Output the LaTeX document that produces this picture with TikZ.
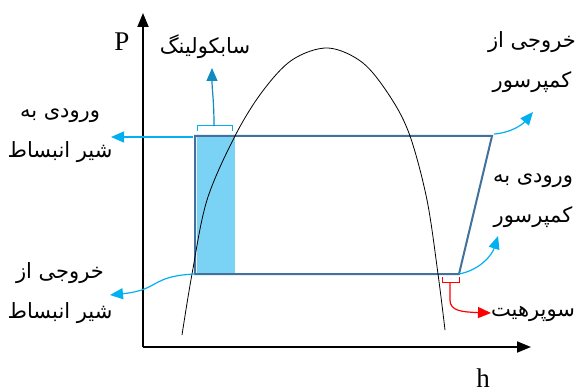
\documentclass[tikz,border=0pt]{standalone}
\usepackage{fontspec}
\setmainfont{Liberation Serif}
\newfontfamily\arabicfont[Script=Arabic]{DejaVu Sans}
\TeXXeTstate=1
\usetikzlibrary{arrows.meta}
\definecolor{cycleblue}{HTML}{41719C}
\definecolor{fillblue}{HTML}{7AD3F5}
\definecolor{cyanarrow}{HTML}{00B0F0}
\definecolor{tealarrow}{HTML}{0E8CC0}
\tikzset{
  axisline/.style={line width=1.8pt,-{Triangle[length=14pt,width=11pt]}},
  cycleline/.style={draw=cycleblue,line width=2pt,line join=miter},
  cyarrow/.style={draw=cyanarrow,line width=1.2pt,-{Triangle[length=13pt,width=11pt]}},
  tlabel/.style={font=\arabicfont\fontsize{21}{40}\selectfont,align=center,inner sep=0pt},
  latlabel/.style={font=\fontsize{27}{30}\selectfont,inner sep=0pt}
}
\begin{document}
\begin{tikzpicture}[x=1pt,y=-1pt]
\useasboundingbox (0,0) rectangle (577,390);
% axes
\coordinate (o) at (143,347);
\coordinate (ytop) at (143,13);
\coordinate (xend) at (531,347);
\draw[axisline] (o) -- (ytop);
\draw[axisline] (o) -- (xend);
\node[latlabel] (P) at (122,42) {P};
\node[latlabel,anchor=south] (h) at (483,388) {h};
% subcooling fill
\fill[fillblue] (197,136) rectangle (235,274);
% cycle
\coordinate (c1) at (195,136);
\coordinate (c2) at (492,136);
\coordinate (c3) at (459,274);
\coordinate (c4) at (195,274);
\draw[cycleline] (c1) -- (c2) -- (c3) -- (c4) -- cycle;
% dome
\draw[black,line width=0.8pt] plot[smooth,tension=0.55] coordinates {(182,335) (192,274) (207,200) (235,136) (262,92) (292,60) (328,48) (363,63) (391,98) (410,136) (427,200) (438,274) (445,330)};
% subcooling bracket
\draw[cyanarrow,line width=1pt] (197,131) -- (197,126) -- (232,126) -- (232,131);
\coordinate (sbstem) at (214,126);
\coordinate (sbtip) at (212,68);
\draw[draw=tealarrow,line width=1.2pt,-{Triangle[length=13pt,width=11pt]},tealarrow] (sbstem) .. controls (214,100) and (212,90) .. (sbtip);
\node[tlabel] (sub) at (205,47) {\beginR سابکولینگ\endR};
% superheat bracket
\draw[red,line width=1pt] (442,277) -- (442,282) -- (459,282) -- (459,277);
\coordinate (shstem) at (450,282);
\coordinate (shtip) at (491,313);
\draw[red,line width=1.2pt,-{Triangle[length=13pt,width=11pt]}] (shstem) -- (450,300) .. controls (450,311) and (462,312) .. (shtip);
\node[tlabel] (sup) at (533,314) {\beginR سوپرهیت\endR};
% arrows
\coordinate (t1) at (111,137);
\draw[cyarrow] (193,137) -- (t1);
\node[tlabel] (inexp) at (60,136) {\beginR ورودی به\endR\\\beginR شیر انبساط\endR};
\coordinate (t2) at (110,295);
\draw[cyarrow] (c4) .. controls (150,276) and (160,290) .. (t2);
\node[tlabel] (outexp) at (60,293) {\beginR خروجی از\endR\\\beginR شیر انبساط\endR};
\coordinate (t3) at (533,112);
\draw[cyarrow] (494,134) .. controls (510,133) and (522,125) .. (t3);
\node[tlabel] (outcomp) at (532,62) {\beginR خروجی از\endR\\\beginR کمپرسور\endR};
\coordinate (t4) at (498,236);
\draw[cyarrow] (c3) .. controls (480,270) and (492,255) .. (t4);
\node[tlabel] (incomp) at (533,201) {\beginR ورودی به\endR\\\beginR کمپرسور\endR};
\end{tikzpicture}
\end{document}
